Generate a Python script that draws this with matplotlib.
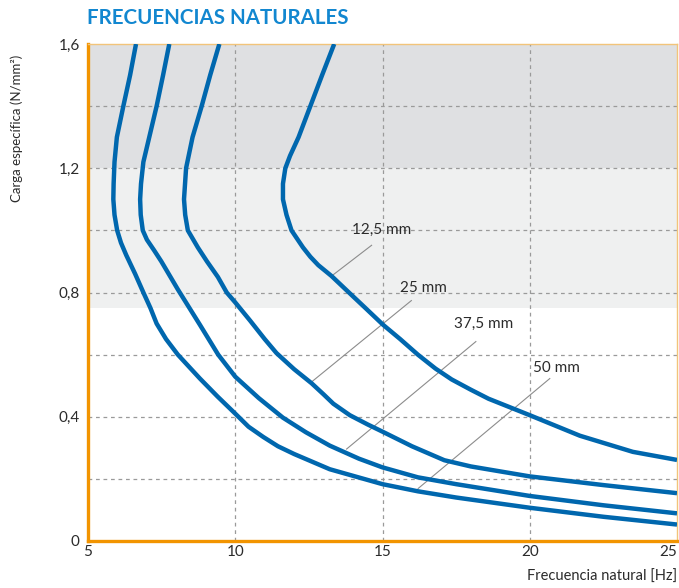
import matplotlib
matplotlib.use("Agg")
import matplotlib.pyplot as plt

plt.rcParams['font.family'] = ['Lato', 'DejaVu Sans']

# Natural frequency [Hz] vs. specific load [N/mm²] for each thickness
thickness_labels = ["12,5 mm", "25 mm", "37,5 mm", "50 mm"]

freq_12_5 = [13.36, 12.95, 12.55, 12.15, 11.86, 11.70, 11.62, 11.62, 11.74, 11.91,
             12.30, 12.55, 12.82, 13.27, 13.86, 14.42, 15.02, 15.60, 16.20, 16.80,
             17.35, 18.00, 18.60, 20.00, 21.70, 23.50, 25.00]
load_12_5 = [1.60, 1.50, 1.40, 1.30, 1.24, 1.20, 1.15, 1.10, 1.05, 1.00,
             0.945, 0.915, 0.888, 0.853, 0.80, 0.75, 0.696, 0.65, 0.60, 0.555,
             0.52, 0.487, 0.458, 0.405, 0.339, 0.287, 0.261]

freq_25 = [9.46, 9.15, 8.86, 8.55, 8.33, 8.26, 8.30, 8.39, 8.73, 9.04,
           9.41, 9.71, 10.00, 10.50, 11.00, 11.40, 12.00, 12.59, 13.00, 13.33,
           13.89, 14.50, 15.00, 16.00, 17.10, 18.00, 20.00, 22.50, 25.00]
load_25 = [1.60, 1.50, 1.40, 1.30, 1.20, 1.10, 1.05, 1.00, 0.945, 0.90,
           0.85, 0.80, 0.768, 0.71, 0.65, 0.605, 0.553, 0.508, 0.472, 0.442,
           0.405, 0.375, 0.352, 0.305, 0.26, 0.24, 0.208, 0.18, 0.154]

freq_37_5 = [7.76, 7.55, 7.33, 7.08, 6.88, 6.80, 6.77, 6.79, 6.86, 7.00,
             7.25, 7.49, 8.05, 8.80, 9.42, 10.00, 10.80, 11.62, 12.40, 13.21,
             14.20, 15.00, 16.20, 17.50, 20.00, 22.50, 25.00]
load_37_5 = [1.60, 1.50, 1.40, 1.30, 1.22, 1.15, 1.10, 1.05, 1.00, 0.97,
             0.935, 0.90, 0.81, 0.696, 0.60, 0.529, 0.46, 0.397, 0.35, 0.307,
             0.265, 0.237, 0.205, 0.183, 0.145, 0.115, 0.089]

freq_50 = [6.63, 6.43, 6.20, 5.98, 5.90, 5.87, 5.86, 5.90, 5.99, 6.12,
           6.30, 6.60, 6.88, 7.12, 7.33, 7.65, 8.05, 8.80, 9.40, 10.00,
           10.45, 10.95, 11.45, 12.00, 13.21, 15.00, 16.20, 17.50, 20.00, 22.50,
           25.00]
load_50 = [1.60, 1.50, 1.40, 1.30, 1.22, 1.15, 1.10, 1.05, 1.00, 0.96,
           0.92, 0.86, 0.80, 0.75, 0.70, 0.65, 0.60, 0.523, 0.465, 0.41,
           0.368, 0.335, 0.305, 0.28, 0.231, 0.183, 0.16, 0.14, 0.107, 0.078,
           0.053]

x_ticks = [5, 10, 15, 20, 25]
x_tick_labels = ["5", "10", "15", "20", "25"]
y_ticks = [0, 0.4, 0.8, 1.2, 1.6]
y_tick_labels = ["0", "0,4", "0,8", "1,2", "1,6"]

curves = [(freq_12_5, load_12_5), (freq_25, load_25),
          (freq_37_5, load_37_5), (freq_50, load_50)]

# label text anchor (left, centre) and leader line (start -> point on curve)
label_pos = [(13.95, 1.00), (15.59, 0.813), (17.42, 0.699), (20.11, 0.556)]
leaders = [((14.63, 0.952), (13.27, 0.853)),
           ((15.98, 0.774), (12.59, 0.512)),
           ((18.17, 0.642), (13.78, 0.296)),
           ((20.68, 0.523), (16.21, 0.169))]

BLUE = "#0067ae"
ORANGE = "#f29400"
TEXT = "#2b2b2b"

fig = plt.figure(figsize=(6.79, 5.88), dpi=100)
ax = fig.add_axes([88 / 679, 1 - 541 / 588, (677 - 88) / 679, (541 - 44) / 588])

ax.set_xlim(5, 25)
ax.set_ylim(0, 1.6)

# shaded load zones
ax.axhspan(0.75, 1.2, color="#eff0f0", zorder=0, lw=0)
ax.axhspan(1.2, 1.6, color="#dfe0e2", zorder=0, lw=0)

# dashed grid
for gx in [10, 15, 20]:
    ax.axvline(gx, color="#9a9a9a", lw=0.9, ls=(0, (3, 3)), zorder=1)
for gy in [0.2, 0.4, 0.6, 0.8, 1.0, 1.2, 1.4]:
    ax.axhline(gy, color="#9a9a9a", lw=0.9, ls=(0, (3, 3)), zorder=1)

for fx, ly in curves:
    ax.plot(fx, ly, color=BLUE, lw=3.2, solid_capstyle="butt",
            solid_joinstyle="round", zorder=3)

for lbl, (tx, ty), ((x0, y0), (x1, y1)) in zip(thickness_labels, label_pos, leaders):
    ax.plot([x0, x1], [y0, y1], color="#8c8c8c", lw=0.8, zorder=2)
    ax.text(tx, ty, lbl, ha="left", va="center", fontsize=11, color=TEXT, zorder=4)

ax.set_xticks(x_ticks)
ax.set_xticklabels(x_tick_labels)
ax.set_yticks(y_ticks)
ax.set_yticklabels(y_tick_labels)
ax.tick_params(axis="both", length=0, labelsize=11, colors=TEXT)
ax.tick_params(axis="y", pad=6)
ax.tick_params(axis="x", pad=3)
ax.get_xticklabels()[-1].set_horizontalalignment("right")

for side in ["left", "bottom"]:
    ax.spines[side].set_color(ORANGE)
    ax.spines[side].set_linewidth(2.4)
for side in ["top", "right"]:
    ax.spines[side].set_color("#f2c47a")
    ax.spines[side].set_linewidth(1.0)

fig.text(677 / 679, 1 - 577 / 588, "Frecuencia natural [Hz]", ha="right", va="center",
         fontsize=10.5, color=TEXT)
fig.text(17 / 679, 1 - 128 / 588, "Carga específica (N/mm²)", rotation=90,
         ha="center", va="center", fontsize=9.5, color=TEXT)
fig.text(87 / 679, 1 - 18.5 / 588, "FRECUENCIAS NATURALES", ha="left", va="center",
         fontsize=14.8, fontweight="bold", color="#1287d0")

fig.savefig("out.png", dpi=100)
